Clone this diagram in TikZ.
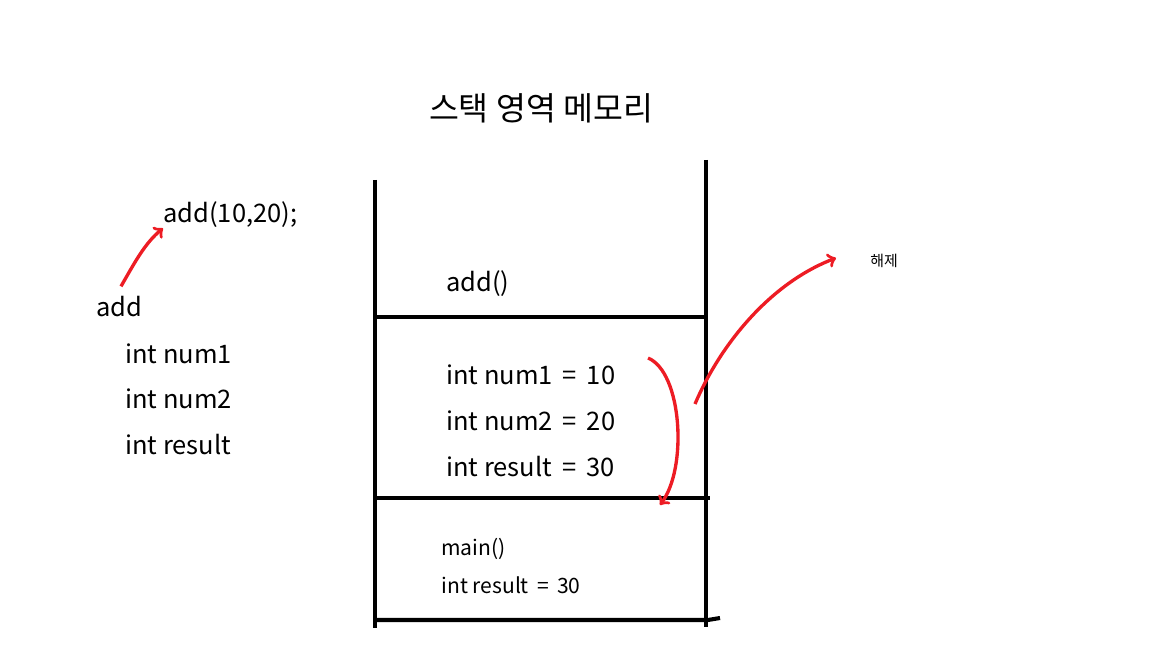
\documentclass[tikz,border=0pt]{standalone}
\usepackage{fontspec}
\setmainfont{Noto Sans CJK KR}
\usetikzlibrary{arrows,positioning}
\definecolor{pen}{RGB}{237,28,36}

\begin{document}
\begin{tikzpicture}[x=0.02cm, y=-0.02cm,
  wall/.style={line width=2.3pt},
  memo/.style={->, pen, line width=1.9pt},
  txt/.style={anchor=west, inner sep=0pt, font=\fontsize{14.5}{17}\selectfont},
  small/.style={anchor=west, inner sep=0pt, font=\fontsize{12}{14}\selectfont}]

\useasboundingbox (0,0) rectangle (1152,648);

\node (title) at (541,108) {\fontsize{18.5}{22}\selectfont 스택 영역 메모리};

\draw [wall] (375,180) -- (375,628);
\draw [wall] (706,160) -- (706,627);
\draw [wall] (375,317) -- (706,317);
\draw [wall] (375,498) -- (710,498);
\draw [wall] (375,620) -- (708,620) -- (720,618);

\node [txt] (addframe) at (446,284) {add()};
\node [txt] (num1) at (446,375) {int num1 \,=\, 10};
\node [txt] (num2) at (446,421) {int num2 \,=\, 20};
\node [txt] (result) at (446,467) {int result \,=\, 30};
\node [small] (mainframe) at (441,549) {main()};
\node [small] (mainresult) at (441,585) {int result \,=\, 30};

\node [txt] (call) at (163,215) {add(10,20);};
\node [txt] (func) at (96,307) {add};
\node [txt] (var1) at (125,354) {int num1};
\node [txt] (var2) at (125,399) {int num2};
\node [txt] (var3) at (125,445) {int result};

\node [anchor=west, inner sep=0pt, font=\fontsize{8.5}{10}\selectfont] (free) at (870,261) {해제};

\coordinate (popstart) at (695,404);
\coordinate (popend) at (836,258);
\coordinate (downstart) at (648,358);
\coordinate (downend) at (660,505);

\draw [memo] (func.north west) ++(25,-10) .. controls (135,262) and (145,243) .. (call.south west);
\draw [memo] (popstart) .. controls (720,345) and (770,283) .. (popend);
\draw [memo] (downstart) .. controls (682,372) and (688,468) .. (downend);

\end{tikzpicture}
\end{document}
